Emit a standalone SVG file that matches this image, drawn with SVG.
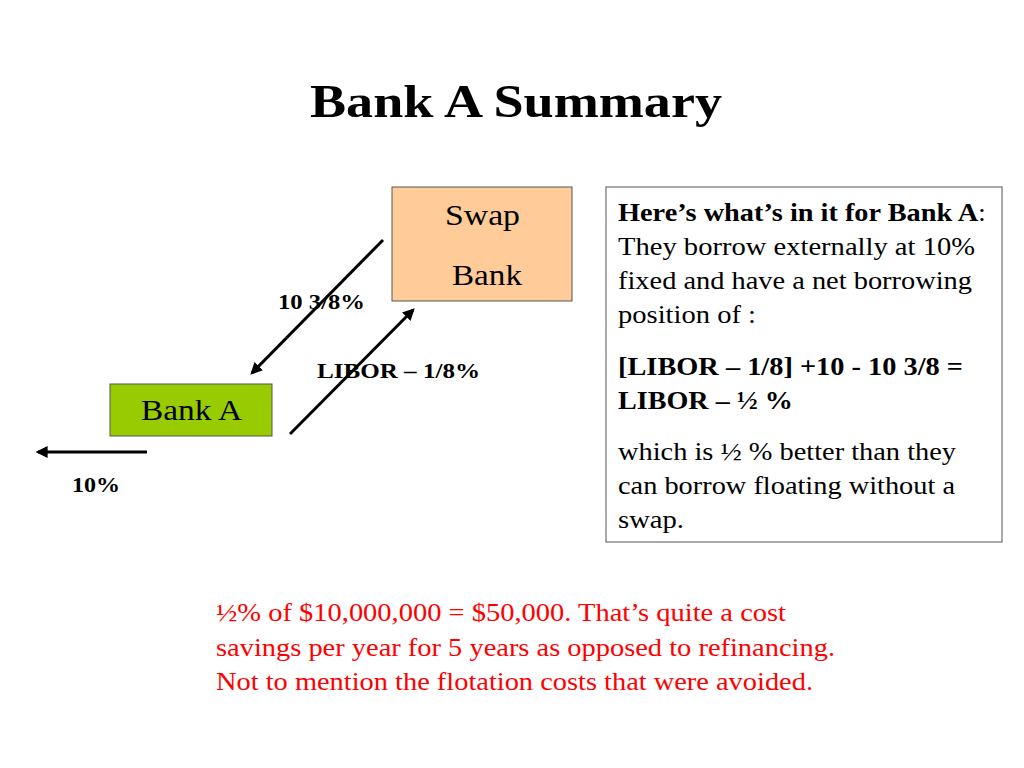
<svg xmlns="http://www.w3.org/2000/svg" width="1024" height="768" viewBox="0 0 1024 768">
<style>
text{font-family:"Liberation Serif","Times New Roman",serif;fill:#000}
.b{font-weight:bold}
.n{font-size:29px}
.t{font-size:25px}
.l{font-size:21px;font-weight:bold}
.r{font-size:26px;fill:#FF0000}
.c{stroke:#000;stroke-width:3;fill:none;marker-end:url(#ah)}
</style>
<defs><marker id="ah" viewBox="0 0 10 10" refX="8" refY="5" markerWidth="4" markerHeight="4" orient="auto"><path d="M0,0L10,5L0,10z" fill="#000"/></marker></defs>
<rect width="1024" height="768" fill="#fff"/>
<text x="310" y="117" class="b" font-size="46" textLength="412" lengthAdjust="spacingAndGlyphs">Bank A Summary</text>
<g id="swap"><rect x="392" y="187" width="180" height="114" fill="#FFCC99" stroke="#555"/><text x="445" y="225" class="n" textLength="75" lengthAdjust="spacingAndGlyphs">Swap</text><text x="452" y="285" class="n" textLength="70" lengthAdjust="spacingAndGlyphs">Bank</text></g>
<g id="bankA"><rect x="110" y="384" width="162" height="52" fill="#99CC00" stroke="#555"/><text x="141" y="420" class="n" textLength="101" lengthAdjust="spacingAndGlyphs">Bank A</text></g>
<g id="connectors">
<line x1="383" y1="240" x2="252" y2="373" class="c"/>
<line x1="290" y1="434" x2="413" y2="310" class="c"/>
<line x1="147" y1="452" x2="38" y2="452" class="c"/>
<text x="278" y="309" class="l" textLength="87" lengthAdjust="spacingAndGlyphs">10 3/8%</text>
<text x="317" y="378" class="l" textLength="163" lengthAdjust="spacingAndGlyphs">LIBOR – 1/8%</text>
<text x="72" y="492" class="l" textLength="48" lengthAdjust="spacingAndGlyphs">10%</text>
</g>
<g id="info"><rect x="606" y="187" width="396" height="355" fill="#fff" stroke="#555"/>
<text x="618" y="221" class="t" textLength="368" lengthAdjust="spacingAndGlyphs"><tspan class="b">Here’s what’s in it for Bank A</tspan>:</text>
<text x="618" y="255" class="t" textLength="357" lengthAdjust="spacingAndGlyphs">They borrow externally at 10%</text>
<text x="618" y="289" class="t" textLength="354" lengthAdjust="spacingAndGlyphs">fixed and have a net borrowing</text>
<text x="618" y="323" class="t" textLength="138" lengthAdjust="spacingAndGlyphs">position of :</text>
<text x="618" y="375" class="t b" textLength="345" lengthAdjust="spacingAndGlyphs">[LIBOR – 1/8] +10 - 10 3/8 =</text>
<text x="618" y="409" class="t b" textLength="175" lengthAdjust="spacingAndGlyphs">LIBOR – ½ %</text>
<text x="618" y="460" class="t" textLength="338" lengthAdjust="spacingAndGlyphs">which is ½ % better than they</text>
<text x="618" y="494" class="t" textLength="337" lengthAdjust="spacingAndGlyphs">can borrow floating without a</text>
<text x="618" y="528" class="t" textLength="66" lengthAdjust="spacingAndGlyphs">swap.</text></g>
<text x="216" y="621" class="r" textLength="570" lengthAdjust="spacingAndGlyphs">½% of $10,000,000 = $50,000. That’s quite a cost</text>
<text x="216" y="656" class="r" textLength="619" lengthAdjust="spacingAndGlyphs">savings per year for 5 years as opposed to refinancing.</text>
<text x="216" y="690" class="r" textLength="597" lengthAdjust="spacingAndGlyphs">Not to mention the flotation costs that were avoided.</text>
</svg>
